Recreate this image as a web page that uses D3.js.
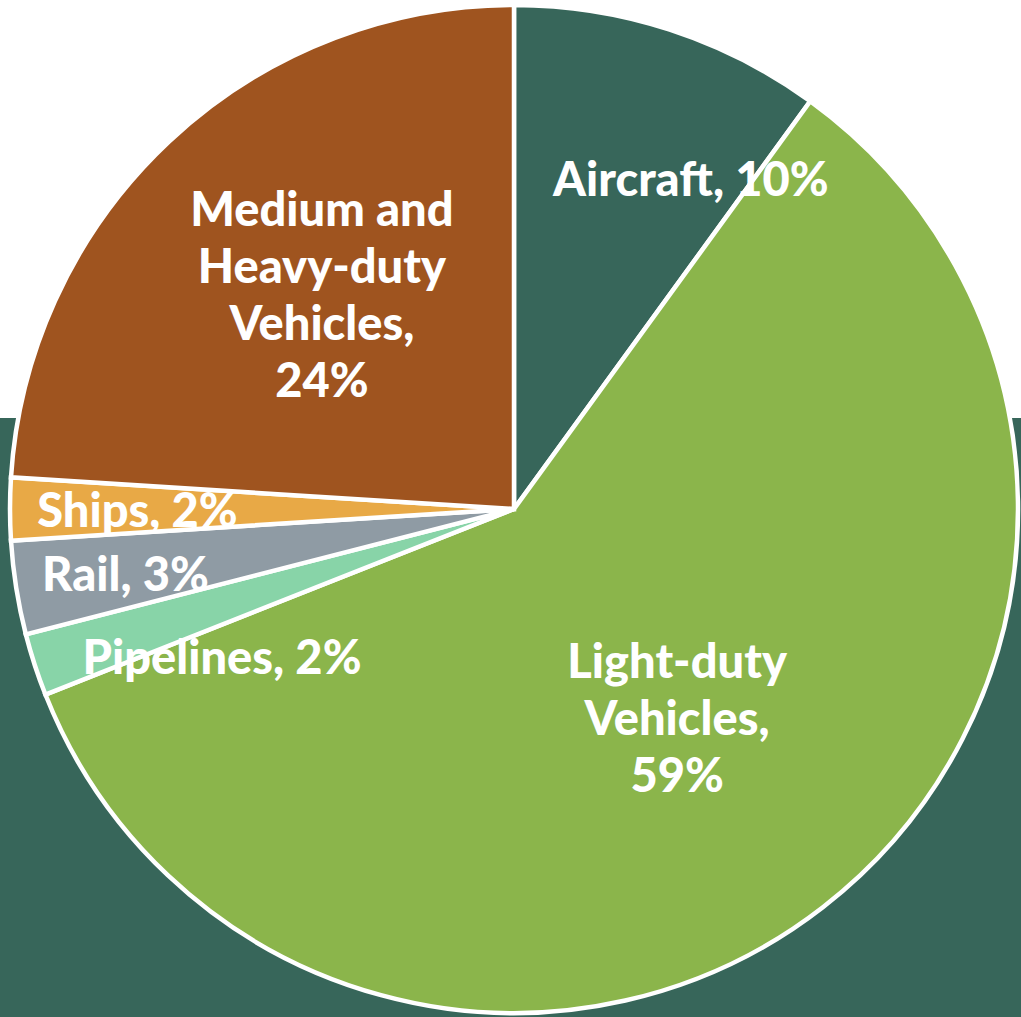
<!DOCTYPE html>
<html>
<head>
<meta charset="utf-8">
<script src="https://cdn.jsdelivr.net/npm/d3@7"></script>
<style>
  html, body { margin: 0; padding: 0; background: #ffffff; }
  svg { display: block; }
  .lbl { font-family: "Lato", "Open Sans", sans-serif; font-weight: 900; fill: #ffffff; }
</style>
</head>
<body>
<svg id="chart" width="1021" height="1017"></svg>
<script>
// Transportation energy use by mode (share of total)
const categories = ["Aircraft", "Light-duty Vehicles", "Pipelines", "Rail", "Ships", "Medium and Heavy-duty Vehicles"];
const shares = [10, 59, 2, 3, 2, 24];
const labelLines = [
  ["Aircraft, 10%"],
  ["Light-duty", "Vehicles,", "59%"],
  ["Pipelines, 2%"],
  ["Rail, 3%"],
  ["Ships, 2%"],
  ["Medium and", "Heavy-duty", "Vehicles,", "24%"]
];
const colors = ["#37665a", "#8bb54b", "#88d4a8", "#8f9ba4", "#e8a946", "#9f541f"];

// label placement: fraction of radius along the slice's mid-angle, plus nudges
const labelLayout = {
  "Aircraft": { rf: 0.686, dx: 70, dy: 0, anchor: "middle" },
  "Light-duty Vehicles": { rf: 0.528, dx: 0, dy: 0, anchor: "middle" },
  "Pipelines": { rf: 0.90, dx: 0, dy: 9, anchor: "start" },
  "Rail": { rf: 0.948, dx: 0, dy: -9, anchor: "start" },
  "Ships": { rf: 0.946, dx: 0, dy: 2, anchor: "start" },
  "Medium and Heavy-duty Vehicles": { rf: 0.58, dx: 8, dy: 0, anchor: "middle" }
};

const W = 1021, H = 1017;
const cx = 514, cy = 509, R = 504;
const fontSize = 47, lineH = 57;

const svg = d3.select("#chart");

// dark band behind the lower part of the pie
svg.append("rect")
  .attr("x", 0).attr("y", 418)
  .attr("width", W).attr("height", H - 418)
  .attr("fill", "#37665a");

const data = categories.map((c, i) => ({ name: c, value: shares[i], lines: labelLines[i], color: colors[i] }));

const pie = d3.pie().sort(null).value(d => d.value);
const arc = d3.arc().innerRadius(0).outerRadius(R);
const arcs = pie(data);

const g = svg.append("g").attr("transform", `translate(${cx},${cy})`);

g.selectAll("path.slice")
  .data(arcs)
  .join("path")
  .attr("class", "slice")
  .attr("d", arc)
  .attr("fill", d => d.data.color)
  .attr("stroke", "#ffffff")
  .attr("stroke-width", 4.5)
  .attr("stroke-linejoin", "miter");

const labels = g.selectAll("text.lbl")
  .data(arcs)
  .join("text")
  .attr("class", "lbl")
  .attr("font-size", fontSize)
  .attr("text-anchor", d => labelLayout[d.data.name].anchor)
  .attr("transform", d => {
    const L = labelLayout[d.data.name];
    const a = (d.startAngle + d.endAngle) / 2;
    const x = Math.sin(a) * R * L.rf + L.dx;
    const y = -Math.cos(a) * R * L.rf + L.dy;
    return `translate(${x},${y})`;
  });

labels.each(function(d) {
  const n = d.data.lines.length;
  const t = d3.select(this);
  d.data.lines.forEach((line, i) => {
    t.append("tspan")
      .attr("x", 0)
      .attr("y", (i - (n - 1) / 2) * lineH + fontSize * 0.34)
      .text(line);
  });
});
</script>
</body>
</html>
